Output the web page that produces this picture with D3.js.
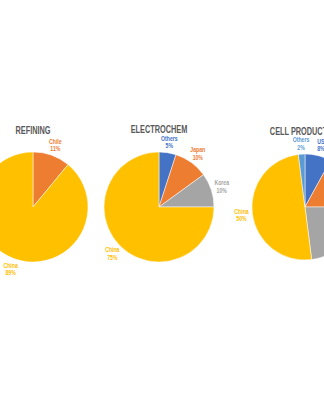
<!DOCTYPE html>
<html>
<head>
<meta charset="utf-8">
<script src="https://cdn.jsdelivr.net/npm/d3@7/dist/d3.min.js"></script>
<style>
  html, body { margin: 0; padding: 0; background: #ffffff; }
  svg { display: block; }
  text { font-family: "Liberation Sans", "DejaVu Sans", sans-serif; }
</style>
</head>
<body>
<svg id="chart" width="324" height="400"></svg>
<script>
// Supply-chain shares by stage (percent of global capacity)
const stageTitles = ["REFINING", "ELECTROCHEM", "CELL PRODUCTION"];

const refiningLabels = ["Chile", "China"];
const refiningValues = [11, 89];

const electrochemLabels = ["Others", "Japan", "Korea", "China"];
const electrochemValues = [5, 10, 10, 75];

const cellLabels = ["US", "Japan", "Korea", "China", "Others"];
const cellValues = [8, 17, 23, 50, 2];

// Office-style palette
const blue = "#4472C4", orange = "#ED7D31", gray = "#A5A5A5",
      gold = "#FFC000", lightBlue = "#5B9BD5";

// Narrow the glyphs horizontally to get a Calibri-like width
const labelSqueeze = 0.76;
const titleSqueeze = 0.72;

const panels = [
  { title: stageTitles[0], labels: refiningLabels, values: refiningValues,
    colors: [orange, gold], cx: 33, cy: 207, r: 55, titleY: 130 },
  { title: stageTitles[1], labels: electrochemLabels, values: electrochemValues,
    colors: [blue, orange, gray, gold], cx: 159, cy: 207, r: 55, titleY: 129.5 },
  { title: stageTitles[2], labels: cellLabels, values: cellValues,
    colors: [blue, orange, gray, gold, lightBlue], cx: 305, cy: 207, r: 53, titleY: 131.5 }
];

const svg = d3.select("#chart");

const pie = d3.pie().sort(null).value(d => d.value);

panels.forEach(p => {
  const rows = p.labels.map((name, i) => ({ name, value: p.values[i], color: p.colors[i] }));
  const arcs = pie(rows);
  const arc = d3.arc().innerRadius(0).outerRadius(p.r);
  const labelArc = d3.arc().innerRadius(p.r + 11).outerRadius(p.r + 11);

  const g = svg.append("g").attr("transform", `translate(${p.cx},${p.cy})`);

  g.selectAll("path.slice")
    .data(arcs)
    .join("path")
    .attr("class", "slice")
    .attr("d", arc)
    .attr("fill", d => d.data.color)
    .attr("stroke", "#ffffff")
    .attr("stroke-width", 0.5);

  // Category + percentage labels outside each slice
  const lab = g.selectAll("g.lab")
    .data(arcs)
    .join("g")
    .attr("class", "lab")
    .attr("transform", d => `translate(${labelArc.centroid(d)}) scale(${labelSqueeze},1)`);

  lab.append("text")
    .attr("text-anchor", "middle")
    .attr("y", -1.2)
    .attr("font-size", 6.8)
    .attr("font-weight", "bold")
    .attr("fill", d => d.data.color)
    .text(d => d.data.name);

  lab.append("text")
    .attr("text-anchor", "middle")
    .attr("y", 6.4)
    .attr("font-size", 6.8)
    .attr("font-weight", "bold")
    .attr("fill", d => d.data.color)
    .text(d => d.data.value + "%");

  svg.append("text")
    .attr("transform", `translate(${p.cx},${p.titleY + 3.7}) scale(${titleSqueeze},1)`)
    .attr("text-anchor", "middle")
    .attr("font-size", 10.2)
    .attr("font-weight", "bold")
    .attr("fill", "#595959")
    .text(p.title);
});
</script>
</body>
</html>
